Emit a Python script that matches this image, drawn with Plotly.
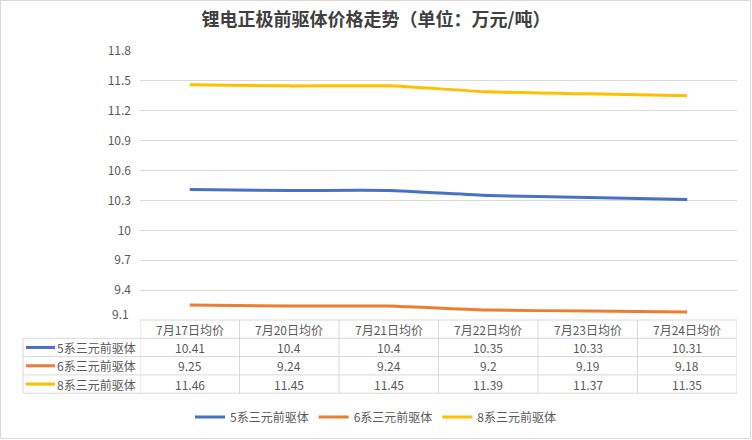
import plotly.graph_objects as go

# data
dates = ["7月17日均价", "7月20日均价", "7月21日均价", "7月22日均价", "7月23日均价", "7月24日均价"]
series_names = ["5系三元前驱体", "6系三元前驱体", "8系三元前驱体"]
ncm5 = [10.41, 10.4, 10.4, 10.35, 10.33, 10.31]
ncm6 = [9.25, 9.24, 9.24, 9.2, 9.19, 9.18]
ncm8 = [11.46, 11.45, 11.45, 11.39, 11.37, 11.35]
colors = ["#4472C4", "#ED7D31", "#FFC000"]
y_ticks = [9.1, 9.4, 9.7, 10.0, 10.3, 10.6, 10.9, 11.2, 11.5, 11.8]

W, H = 752, 440
L, R, T, B = 140, 15, 51, 120
plot_w = W - L - R
plot_h = H - T - B

FONT = "Noto Sans CJK SC"
TXT = "#595959"
GRID = "#D9D9D9"


def px_x(px):
    return (px - L) / plot_w


def px_y(py):
    return (H - B - py) / plot_h


def fmt(v):
    return f"{v:.2f}".rstrip("0").rstrip(".")


fig = go.Figure()
xs = list(range(len(dates)))
for name, vals, clr in zip(series_names, [ncm5, ncm6, ncm8], colors):
    fig.add_trace(go.Scatter(
        x=xs, y=vals, name=name, mode="lines",
        line=dict(color=clr, width=3, shape="spline", smoothing=0.5),
    ))

shapes = []
annotations = []

# data table under the plot
row_h = 18.3
top = H - B
rows_y = [top + row_h * k for k in range(5)]

shapes.append(dict(type="line", xref="paper", yref="paper",
                   x0=0, x1=1, y0=px_y(rows_y[0]), y1=px_y(rows_y[0]),
                   line=dict(color=GRID, width=1)))
for ry in rows_y[1:]:
    shapes.append(dict(type="line", xref="paper", yref="paper",
                       x0=px_x(23), x1=1, y0=px_y(ry), y1=px_y(ry),
                       line=dict(color=GRID, width=1)))
for i in range(len(dates) + 1):
    shapes.append(dict(type="line", xref="x", yref="paper",
                       x0=i - 0.5, x1=i - 0.5, y0=px_y(rows_y[0]), y1=px_y(rows_y[-1]),
                       line=dict(color=GRID, width=1)))
shapes.append(dict(type="line", xref="paper", yref="paper",
                   x0=px_x(23), x1=px_x(23), y0=px_y(rows_y[1]), y1=px_y(rows_y[-1]),
                   line=dict(color=GRID, width=1)))

cell_font = dict(size=12, color=TXT, family=FONT)

for i, d in enumerate(dates):
    annotations.append(dict(x=i, y=px_y((rows_y[0] + rows_y[1]) / 2), xref="x", yref="paper",
                            yanchor="middle", text=d, showarrow=False, font=cell_font))

for r, (name, vals, clr) in enumerate(zip(series_names, [ncm5, ncm6, ncm8], colors)):
    cy = px_y((rows_y[r + 1] + rows_y[r + 2]) / 2)
    shapes.append(dict(type="line", xref="paper", yref="paper",
                       x0=px_x(26), x1=px_x(55), y0=cy, y1=cy,
                       line=dict(color=clr, width=3)))
    annotations.append(dict(x=px_x(138), y=cy, xref="paper", yref="paper",
                            xanchor="right", yanchor="middle",
                            text=name, showarrow=False, font=cell_font))
    for i, v in enumerate(vals):
        annotations.append(dict(x=i, y=cy, xref="x", yref="paper", yanchor="middle",
                                text=fmt(v), showarrow=False, font=cell_font))

# lowest tick label sits a bit above the table, as in the original
annotations.append(dict(x=px_x(131), y=px_y(313), xref="paper", yref="paper",
                        xanchor="right", yanchor="middle", text=fmt(y_ticks[0]),
                        showarrow=False, font=cell_font))

# outer chart border
shapes.append(dict(type="rect", xref="paper", yref="paper",
                   x0=px_x(0.5), x1=px_x(W - 1.5), y0=px_y(0.5), y1=px_y(H - 1.5),
                   line=dict(color="#D9D9D9", width=1)))

fig.update_layout(
    width=W, height=H,
    margin=dict(l=L, r=R, t=T, b=B),
    paper_bgcolor="white", plot_bgcolor="white",
    title=dict(text="<b>锂电正极前驱体价格走势（单位：万元/吨）</b>",
               x=0.5, xanchor="center", xref="container",
               y=1 - 20 / H, yanchor="middle", yref="container",
               font=dict(size=18, color="#404040", family=FONT)),
    xaxis=dict(range=[-0.5, len(dates) - 0.5], showticklabels=False, showgrid=False,
               zeroline=False, showline=False, ticks=""),
    yaxis=dict(range=[9.1, 11.8], tickvals=y_ticks,
               ticktext=[""] + [fmt(v) for v in y_ticks[1:]],
               showgrid=True, gridcolor=GRID, gridwidth=1, zeroline=False,
               ticks="", tickfont=cell_font, ticklabelstandoff=8),
    legend=dict(orientation="h", x=0.5, xanchor="center", xref="container",
                y=(H - 417) / H, yanchor="middle", yref="container",
                font=cell_font, itemwidth=30, tracegroupgap=0),
    shapes=shapes,
    annotations=annotations,
    showlegend=True,
)

fig.write_html("out.html", config={"displayModeBar": False},
               post_script="document.body.style.margin='0';")
